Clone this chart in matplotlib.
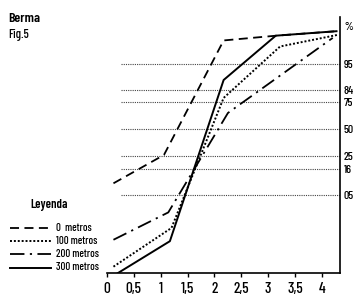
import matplotlib
matplotlib.use("Agg")
import matplotlib.pyplot as plt
from matplotlib.lines import Line2D
from statistics import NormalDist
import numpy as np

# ---- data ----
x_0m = [0.12, 1.06, 2.17, 3.15, 4.27]
p_0m = [8.9, 26.2, 98.7, 99.05, 99.3]
x_100m = [0.12, 1.20, 2.17, 3.22, 4.29]
p_100m = [0.030, 0.69, 78.5, 98.1, 99.1]
x_200m = [0.12, 1.14, 2.25, 4.20]
p_200m = [0.29, 1.9, 66.0, 98.9]
x_300m = [0.12, 1.17, 2.17, 3.14, 4.27]
p_300m = [0.0126, 0.26, 89.2, 99.05, 99.3]

y_ticks = [95, 84, 75, 50, 25, 16, 5]
y_ticklabels = ["95", "84", "75", "50", "25", "16", "05"]
x_ticks = [0, 0.5, 1, 1.5, 2, 2.5, 3, 3.5, 4]
x_ticklabels = ["0", "0,5", "1", "1,5", "2", "2,5", "3", "3,5", "4"]
legend_labels = ["0  metros", "100 metros", "200 metros", "300 metros"]

plt.rcParams['font.family'] = ["Barlow Condensed", "DejaVu Sans"]
plt.rcParams['font.weight'] = 500

nd = NormalDist()
def probit(p):
    return np.array([nd.inv_cdf(v / 100.0) for v in p])

fig = plt.figure(figsize=(3.59, 2.98), dpi=100)
ax = fig.add_axes([107/359, 1-273/298, (340-107)/359, (273-17)/298])

styles = [
    dict(ls=(0, (5, 3)), lw=1.3),
    dict(ls=(0, (1, 1)), lw=1.4),
    dict(ls=(0, (8, 3, 1.2, 3)), lw=1.3),
    dict(ls='-', lw=1.4),
]
series = [(x_0m, p_0m), (x_100m, p_100m), (x_200m, p_200m), (x_300m, p_300m)]
for (xs, ps), st in zip(series, styles):
    ax.plot(xs, probit(ps), color='black', **st)

for t in y_ticks:
    ax.axhline(nd.inv_cdf(t / 100.0), xmin=0.06, xmax=1, color='#444444',
               lw=0.8, ls=(0, (1, 1)), zorder=0)

ax.set_xlim(0, 4.335)
ax.set_ylim(-3.59, 2.8125)
for s in ['left', 'top']:
    ax.spines[s].set_visible(False)
ax.spines['bottom'].set_linewidth(1.2)
ax.spines['right'].set_linewidth(1.2)

ax.set_xticks(x_ticks)
ax.set_xticklabels(x_ticklabels, fontsize=11, fontweight=500)
ax.tick_params(axis='x', direction='out', length=3, width=1, pad=3.5)

ax.yaxis.tick_right()
ax.set_yticks([nd.inv_cdf(t / 100.0) for t in y_ticks])
ax.set_yticklabels(y_ticklabels, fontsize=8.5)
ax.tick_params(axis='y', length=0, pad=2.5)
ax.text(1.0, 2.56, "  %", transform=ax.get_yaxis_transform(), fontsize=8.5,
        va='center', ha='left')

fig.text(8/359, 1-19/298, "Berma", fontsize=10, fontweight=600, va='center', ha='left')
fig.text(8/359, 1-35/298, "Fig.5", fontsize=9, fontweight=500, va='center', ha='left')

fig.text(49/359, 1-205/298, "Leyenda", fontsize=9, fontweight=600, va='center', ha='center')
rows = [228, 241, 254, 267.5]
for lab, st, y in zip(legend_labels, styles, rows):
    yf = 1 - y/298
    fig.add_artist(Line2D([10/359, 51/359], [yf, yf], color='black',
                          transform=fig.transFigure, **st))
    fig.text(56/359, yf, lab, fontsize=7.8, va='center', ha='left')

fig.savefig("out.png", dpi=100)
